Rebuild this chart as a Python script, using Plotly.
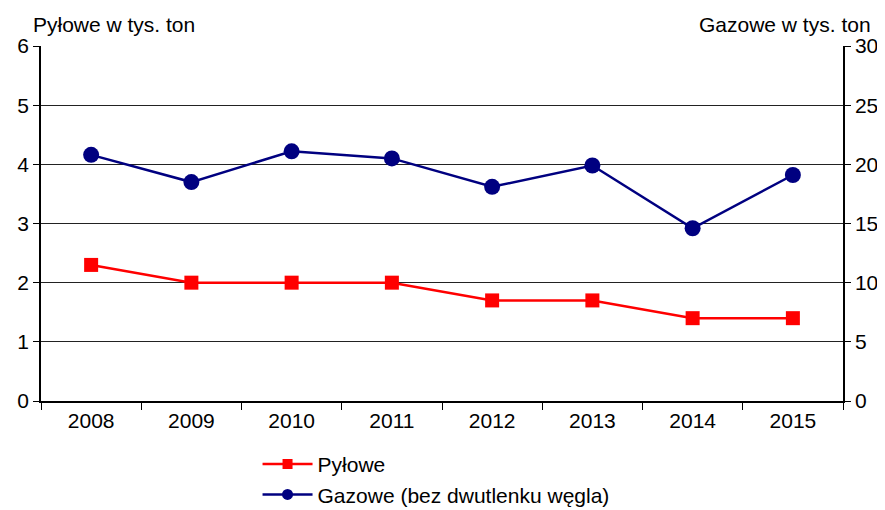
import plotly.graph_objects as go

years = ["2008", "2009", "2010", "2011", "2012", "2013", "2014", "2015"]
pylowe = [2.3, 2.0, 2.0, 2.0, 1.7, 1.7, 1.4, 1.4]
gazowe = [20.8, 18.5, 21.1, 20.5, 18.1, 19.9, 14.6, 19.1]
left_ticks = [0, 1, 2, 3, 4, 5, 6]
right_ticks = [0, 5, 10, 15, 20, 25, 30]

FONT = "Liberation Sans, Arial, sans-serif"
RED = "#ff0000"
NAVY = "#000080"

fig = go.Figure()
fig.add_trace(go.Scatter(
    x=years, y=pylowe, name="Pyłowe", mode="lines+markers", showlegend=False,
    line=dict(color=RED, width=2.5),
    marker=dict(symbol="square", size=14, color=RED),
    yaxis="y"))
fig.add_trace(go.Scatter(
    x=years, y=gazowe, name="Gazowe (bez dwutlenku węgla)", mode="lines+markers",
    showlegend=False,
    line=dict(color=NAVY, width=2.5),
    marker=dict(symbol="circle", size=16, color=NAVY),
    yaxis="y2"))
# legend entries with smaller symbols, as in the reference
fig.add_trace(go.Scatter(
    x=[None], y=[None], name="Pyłowe", mode="lines+markers",
    line=dict(color=RED, width=2.5),
    marker=dict(symbol="square", size=10, color=RED), yaxis="y"))
fig.add_trace(go.Scatter(
    x=[None], y=[None], name="Gazowe (bez dwutlenku węgla)", mode="lines+markers",
    line=dict(color=NAVY, width=2.5),
    marker=dict(symbol="circle", size=11, color=NAVY), yaxis="y2"))

# page body has an 8px margin, so offsets account for it
fig.update_layout(
    width=885, height=510,
    margin=dict(l=33, r=50, t=38, b=117, autoexpand=False),
    paper_bgcolor="white", plot_bgcolor="white",
    font=dict(family=FONT, size=21, color="black"),
    xaxis=dict(type="category", categoryarray=years, categoryorder="array",
               tickson="boundaries", ticks="outside", ticklen=7,
               tickcolor="black", showline=True, linecolor="black", linewidth=1.5,
               showgrid=False, range=[-0.5, 7.5], automargin=False,
               tickfont=dict(size=21)),
    yaxis=dict(range=[0, 6], tickvals=left_ticks, ticks="outside", ticklen=6,
               tickcolor="black", showline=True, linecolor="black", linewidth=1.5,
               showgrid=True, gridcolor="#222222", gridwidth=1, zeroline=False,
               automargin=False, tickfont=dict(size=21)),
    yaxis2=dict(range=[0, 30], tickvals=right_ticks, overlaying="y", side="right",
                ticks="outside", ticklen=6, tickcolor="black", showline=True,
                linecolor="black", linewidth=1.5, showgrid=False, zeroline=False,
                automargin=False, tickfont=dict(size=21)),
    showlegend=True,
    legend=dict(x=0.27, y=-0.121, xanchor="left", yanchor="top", itemwidth=50,
                font=dict(size=21), bgcolor="rgba(0,0,0,0)", tracegroupgap=5),
    annotations=[
        dict(text="Pyłowe w tys. ton", xref="paper", yref="paper", x=-0.012, y=1.0,
             xanchor="left", yanchor="bottom", yshift=8, showarrow=False,
             font=dict(size=21)),
        dict(text="Gazowe w tys. ton", xref="paper", yref="paper", x=1.037, y=1.0,
             xanchor="right", yanchor="bottom", yshift=8, showarrow=False,
             font=dict(size=21)),
    ],
)

fig.write_html("out.html")
